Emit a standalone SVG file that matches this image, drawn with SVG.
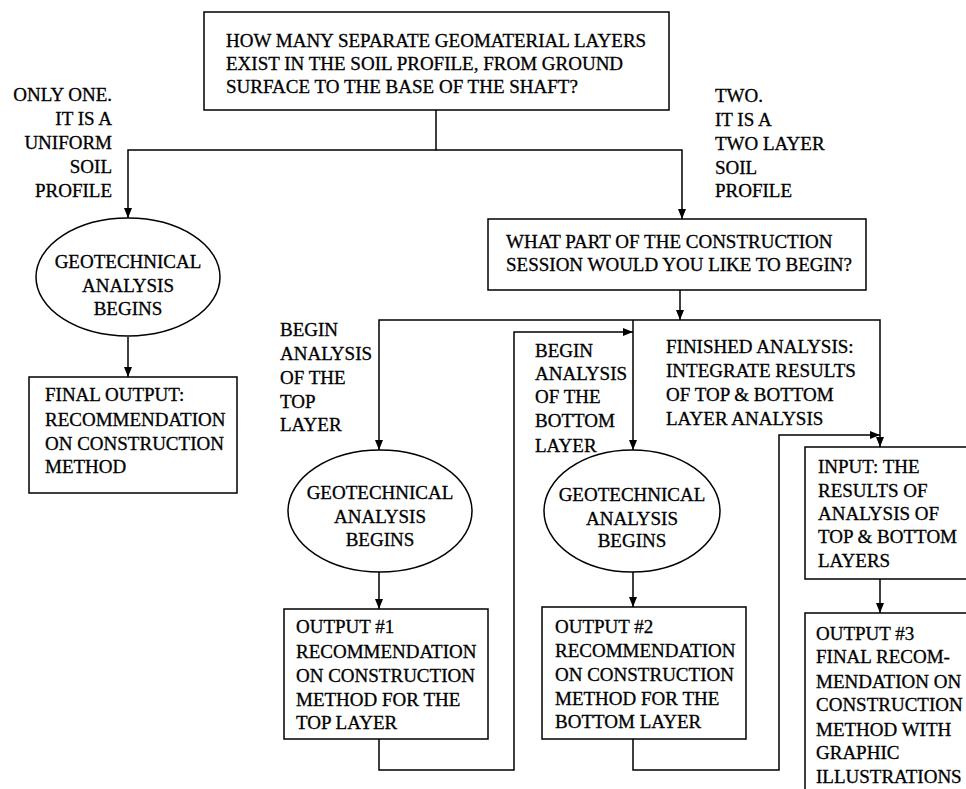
<svg xmlns="http://www.w3.org/2000/svg" width="966" height="789" viewBox="0 0 966 789">
<defs>
<style>
.box{fill:#fff;stroke:#000;stroke-width:1.5}
.ln{fill:none;stroke:#000;stroke-width:1.5}
text{font-family:"Liberation Serif","Times New Roman",serif;font-size:19px;fill:#000;stroke:#000;stroke-width:0.3}
.c{text-anchor:middle}
.r{text-anchor:end}
</style>
<marker id="ah" viewBox="0 0 10 8" refX="10" refY="4" markerWidth="10" markerHeight="8" markerUnits="userSpaceOnUse" orient="auto">
<path d="M0,0 L10,4 L0,8 Z" fill="#000"/>
</marker>
</defs>
<rect width="966" height="789" fill="#fff"/>

<g id="connectors">
<path class="ln" d="M436,110 V150 H128 V218" marker-end="url(#ah)"/>
<path class="ln" d="M436,150 H682 V219" marker-end="url(#ah)"/>
<path class="ln" d="M128,337 V377" marker-end="url(#ah)"/>
<path class="ln" d="M680,290 V320" marker-end="url(#ah)"/>
<path class="ln" d="M633,320 H379 V450" marker-end="url(#ah)"/>
<path class="ln" d="M633,320 V450" marker-end="url(#ah)"/>
<path class="ln" d="M633,320 H880 V447" marker-end="url(#ah)"/>
<path class="ln" d="M379,572 V609" marker-end="url(#ah)"/>
<path class="ln" d="M633,572 V607" marker-end="url(#ah)"/>
<path class="ln" d="M880,579 V613" marker-end="url(#ah)"/>
<path class="ln" d="M379,739 V770 H514 V332 H633" marker-end="url(#ah)"/>
<path class="ln" d="M633,739 V770 H779 V435 H880" marker-end="url(#ah)"/>
</g>

<g id="q1">
<rect class="box" x="204" y="12" width="465" height="98"/>
<text x="226" y="47">HOW MANY SEPARATE GEOMATERIAL LAYERS</text>
<text x="226" y="70">EXIST IN THE SOIL PROFILE, FROM GROUND</text>
<text x="226" y="93">SURFACE TO THE BASE OF THE SHAFT?</text>
</g>

<g id="label-one">
<text class="r" x="112" y="101">ONLY ONE.</text>
<text class="r" x="112" y="125">IT IS A</text>
<text class="r" x="112" y="149">UNIFORM</text>
<text class="r" x="112" y="173">SOIL</text>
<text class="r" x="112" y="197">PROFILE</text>
</g>

<g id="label-two">
<text x="715" y="102">TWO.</text>
<text x="715" y="126">IT IS A</text>
<text x="715" y="150">TWO LAYER</text>
<text x="715" y="174">SOIL</text>
<text x="715" y="197">PROFILE</text>
</g>

<g id="geo1">
<ellipse class="box" cx="128" cy="277" rx="92" ry="59"/>
<text class="c" x="128" y="268">GEOTECHNICAL</text>
<text class="c" x="128" y="292">ANALYSIS</text>
<text class="c" x="128" y="315">BEGINS</text>
</g>

<g id="final-output">
<rect class="box" x="29" y="377" width="208" height="116"/>
<text x="45" y="401">FINAL OUTPUT:</text>
<text x="45" y="426">RECOMMENDATION</text>
<text x="45" y="450">ON CONSTRUCTION</text>
<text x="45" y="473">METHOD</text>
</g>

<g id="q2">
<rect class="box" x="488" y="219" width="378" height="71"/>
<text x="506" y="248">WHAT PART OF THE CONSTRUCTION</text>
<text x="506" y="271">SESSION WOULD YOU LIKE TO BEGIN?</text>
</g>

<g id="label-top">
<text x="280" y="336">BEGIN</text>
<text x="280" y="360">ANALYSIS</text>
<text x="280" y="384">OF THE</text>
<text x="280" y="408">TOP</text>
<text x="280" y="431">LAYER</text>
</g>

<g id="label-bottom">
<text x="535" y="357">BEGIN</text>
<text x="535" y="380">ANALYSIS</text>
<text x="535" y="403">OF THE</text>
<text x="535" y="427">BOTTOM</text>
<text x="535" y="452">LAYER</text>
</g>

<g id="label-finished">
<text x="666" y="353">FINISHED ANALYSIS:</text>
<text x="666" y="377">INTEGRATE RESULTS</text>
<text x="666" y="401">OF TOP &amp; BOTTOM</text>
<text x="666" y="425">LAYER ANALYSIS</text>
</g>

<g id="geo2">
<ellipse class="box" cx="380" cy="511" rx="92" ry="61"/>
<text class="c" x="380" y="499">GEOTECHNICAL</text>
<text class="c" x="380" y="523">ANALYSIS</text>
<text class="c" x="380" y="546">BEGINS</text>
</g>

<g id="geo3">
<ellipse class="box" cx="632" cy="511" rx="88" ry="61"/>
<text class="c" x="632" y="501">GEOTECHNICAL</text>
<text class="c" x="632" y="525">ANALYSIS</text>
<text class="c" x="632" y="547">BEGINS</text>
</g>

<g id="output1">
<rect class="box" x="284" y="609" width="204" height="130"/>
<text x="296" y="633">OUTPUT #1</text>
<text x="296" y="658">RECOMMENDATION</text>
<text x="296" y="682">ON CONSTRUCTION</text>
<text x="296" y="706">METHOD FOR THE</text>
<text x="296" y="729">TOP LAYER</text>
</g>

<g id="output2">
<rect class="box" x="542" y="607" width="204" height="132"/>
<text x="555" y="633">OUTPUT #2</text>
<text x="555" y="657">RECOMMENDATION</text>
<text x="555" y="681">ON CONSTRUCTION</text>
<text x="555" y="705">METHOD FOR THE</text>
<text x="555" y="728">BOTTOM LAYER</text>
</g>

<g id="input3">
<rect class="box" x="805" y="447" width="200" height="132"/>
<text x="818" y="473">INPUT: THE</text>
<text x="818" y="497">RESULTS OF</text>
<text x="818" y="520">ANALYSIS OF</text>
<text x="818" y="543">TOP &amp; BOTTOM</text>
<text x="818" y="567">LAYERS</text>
</g>

<g id="output3">
<rect class="box" x="805" y="613" width="200" height="200"/>
<text x="816" y="640">OUTPUT #3</text>
<text x="816" y="663">FINAL RECOM-</text>
<text x="816" y="688">MENDATION ON</text>
<text x="816" y="711">CONSTRUCTION</text>
<text x="816" y="736">METHOD WITH</text>
<text x="816" y="759">GRAPHIC</text>
<text x="816" y="783">ILLUSTRATIONS</text>
</g>
</svg>
